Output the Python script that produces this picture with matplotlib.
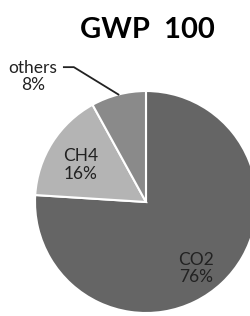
import matplotlib
matplotlib.use("Agg")
from matplotlib import pyplot as plt
import numpy as np

gases = ['CO2', 'CH4', 'others']
shares = [76, 16, 8]
cores = ['#656565', '#b4b4b4', '#8a8a8a']

plt.rcParams['font.family'] = ['Lato', 'DejaVu Sans']

fig = plt.figure(figsize=(2.5, 3.16), dpi=100)
fig.patch.set_facecolor('white')

# eixo centrado onde o pie fica (ele vaza pela direita)
ax = fig.add_axes([0.14, 0.0095, 0.888, 0.7025])
wedges, _ = ax.pie(shares, colors=cores, startangle=90, counterclock=False,
                   radius=1.0, wedgeprops=dict(edgecolor='white', linewidth=1.5))
for w in wedges:
    w.set_clip_on(False)
ax.set_xlim(-1, 1)
ax.set_ylim(-1, 1)
ax.set_aspect('equal')
ax.axis('off')

# rotulos internos
dist = {'CO2': 0.75, 'CH4': 0.68}
desloc = {'CO2': -6, 'CH4': 3}
for w, nome, v in zip(wedges, gases, shares):
    meio = np.deg2rad((w.theta1 + w.theta2) / 2)
    if nome in dist:
        ang = meio + np.deg2rad(desloc[nome])
        r = dist[nome]
        ax.text(r * np.cos(ang), r * np.sin(ang), f'{nome}\n{v}%', ha='center',
                va='center', fontsize=12.5, color='#222222', linespacing=1.1)
    else:
        ex, ey = np.cos(meio), np.sin(meio)
        ax.text(-1.02, 1.13, f'{nome}\n{v}%', ha='center', va='center',
                fontsize=12.5, color='#222222', linespacing=1.1, clip_on=False)
        ax.plot([-0.74, -0.65, ex], [1.215, 1.215, ey], color='#222222',
                lw=1.3, clip_on=False)

fig.text(0.59, 0.905, 'GWP  100', ha='center', va='center', fontsize=21,
         fontweight='bold', color='black')

fig.savefig('out.png', dpi=100, facecolor='white')
